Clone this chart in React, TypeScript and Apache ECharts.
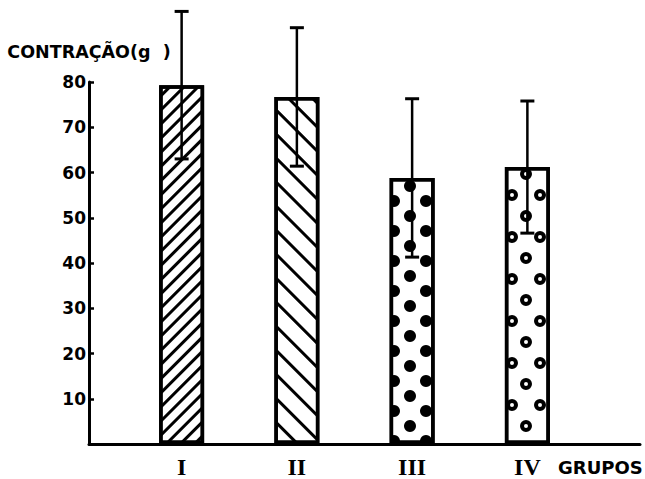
import React, { useEffect, useRef } from "react";
import * as echarts from "echarts";

const categories = ["I", "II", "III", "IV"];
const means = [79.3, 76.7, 58.8, 61.2];
const sds = [16.3, 15.3, 17.5, 14.6];
const yMin = 0;
const yMax = 80;
const yStep = 10;
const yTitle = "CONTRAÇÃO(g  )";
const xTitle = "GRUPOS";

const ringPath =
  "path://M6,0A6,6,0,1,1,6,12A6,6,0,1,1,6,0ZM6,4A2,2,0,1,0,6,8A2,2,0,1,0,6,4Z";

const decals: any[] = [
  {
    symbol: "rect",
    symbolSize: 1,
    dashArrayX: [1, 0],
    dashArrayY: [2.4, 6.6],
    rotation: -Math.PI / 4,
    color: "#000",
    backgroundColor: "#fff",
  },
  {
    symbol: "rect",
    symbolSize: 1,
    dashArrayX: [1, 0],
    dashArrayY: [2.4, 14],
    rotation: Math.PI / 4,
    color: "#000",
    backgroundColor: "#fff",
  },
  {
    symbol: "circle",
    symbolSize: 1,
    dashArrayX: [
      [0, 4, 12, 16],
      [0, 20, 12, 0],
    ],
    dashArrayY: [12, 3],
    color: "#000",
    backgroundColor: "#fff",
  },
  {
    symbol: ringPath,
    symbolSize: 1,
    dashArrayX: [
      [0, 2, 12, 14],
      [0, 16, 12, 0],
    ],
    dashArrayY: [12, 9],
    color: "#000",
    backgroundColor: "#fff",
  },
];

export default function App() {
  const ref = useRef<HTMLDivElement>(null);

  useEffect(() => {
    if (!ref.current) return;
    const chart = echarts.init(ref.current, null, { renderer: "svg" });
    const option: any = {
      animation: false,
      backgroundColor: "#fff",
      grid: [
        { left: 124, right: 60, top: 82, bottom: 35 },
        { left: 89, right: 5, top: 82, bottom: 35 },
      ],
      xAxis: [
        {
          type: "category",
          gridIndex: 0,
          data: categories,
          axisLine: { show: false },
          axisTick: { show: false },
          axisLabel: {
            color: "#000",
            fontFamily: "Liberation Serif",
            fontWeight: "bold",
            fontSize: 24,
            margin: 11,
          },
        },
        {
          type: "value",
          gridIndex: 1,
          min: 0,
          max: 1,
          axisLine: { show: true, lineStyle: { color: "#000", width: 3 } },
          axisTick: { show: false },
          axisLabel: { show: false },
          splitLine: { show: false },
        },
      ],
      yAxis: [
        {
          type: "value",
          gridIndex: 0,
          min: yMin,
          max: yMax,
          interval: yStep,
          show: false,
        },
        {
          type: "value",
          gridIndex: 1,
          min: yMin,
          max: yMax,
          interval: yStep,
          name: yTitle,
          nameLocation: "end",
          nameGap: 21,
          nameTextStyle: {
            color: "#000",
            fontFamily: "DejaVu Sans",
            fontWeight: "bold",
            fontSize: 17.5,
          },
          axisLine: { show: true, lineStyle: { color: "#000", width: 3 } },
          axisTick: {
            show: true,
            inside: true,
            length: 5,
            lineStyle: { color: "#000", width: 2.5 },
          },
          axisLabel: {
            color: "#000",
            fontFamily: "DejaVu Sans",
            fontWeight: "bold",
            fontSize: 17,
            margin: 3,
            showMinLabel: false,
          },
          splitLine: { show: false },
        },
      ],
      graphic: [
        {
          type: "text",
          left: 558,
          top: 458,
          style: {
            text: xTitle,
            fill: "#000",
            fontFamily: "DejaVu Sans",
            fontWeight: "bold",
            fontSize: 18,
          },
        },
      ],
      series: [
        {
          type: "bar",
          xAxisIndex: 0,
          yAxisIndex: 0,
          barWidth: 45,
          data: means.map((v, i) => ({
            value: v,
            itemStyle: { decal: decals[i] },
          })),
          itemStyle: { color: "#fff", borderColor: "#000", borderWidth: 3.5 },
          z: 2,
        },
        {
          type: "custom",
          xAxisIndex: 0,
          yAxisIndex: 0,
          clip: false,
          z: 5,
          data: categories.map((c, i) => [i, means[i], sds[i]]),
          encode: { x: 0, y: 1 },
          renderItem: (params: any, api: any) => {
            const i = api.value(0);
            const m = api.value(1);
            const s = api.value(2);
            const top = api.coord([i, m + s]);
            const bot = api.coord([i, m - s]);
            const x = top[0];
            const half = 7;
            const st = { stroke: "#000", lineWidth: 2.5 };
            const cap = { stroke: "#000", lineWidth: 3 };
            return {
              type: "group",
              children: [
                { type: "line", shape: { x1: x, y1: top[1], x2: x, y2: bot[1] }, style: st },
                { type: "line", shape: { x1: x - half, y1: top[1], x2: x + half, y2: top[1] }, style: cap },
                { type: "line", shape: { x1: x - half, y1: bot[1], x2: x + half, y2: bot[1] }, style: cap },
              ],
            };
          },
        },
      ],
    };
    chart.setOption(option);
    return () => chart.dispose();
  }, []);

  return (
    <div
      ref={ref}
      style={{ position: "absolute", left: 0, top: 0, width: 645, height: 479 }}
    />
  );
}
